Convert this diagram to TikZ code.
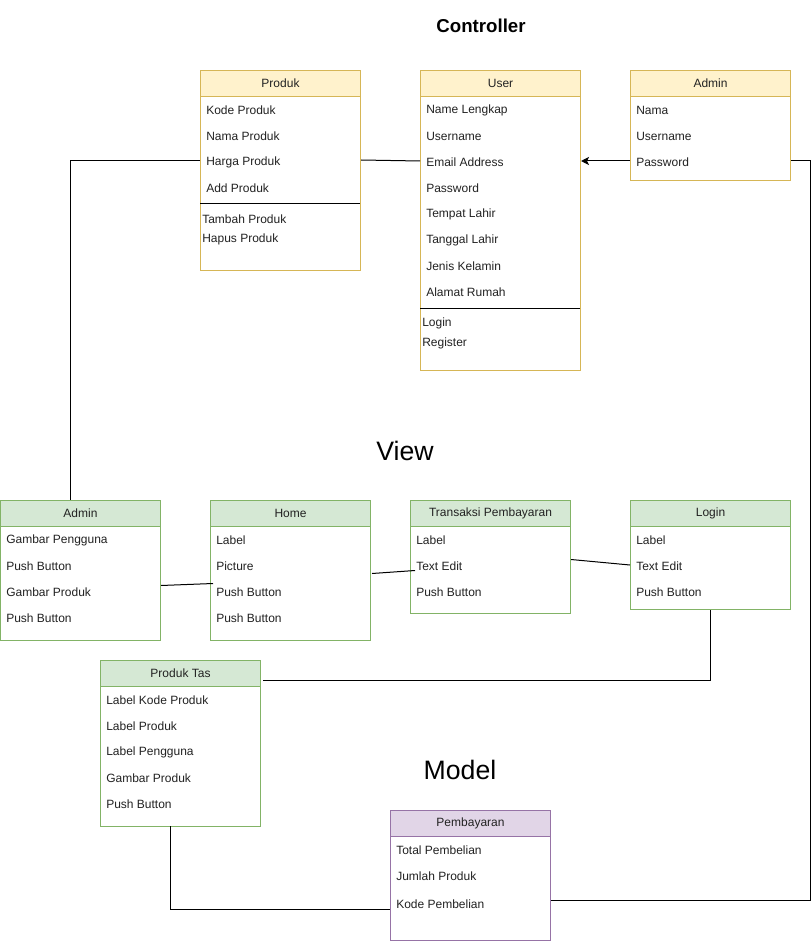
\documentclass[tikz,border=0pt]{standalone}
\usepackage{fontspec}
\setmainfont{Liberation Sans}
\usetikzlibrary{arrows.meta,calc}
\definecolor{yfill}{HTML}{FFF2CC}
\definecolor{ydraw}{HTML}{D6B656}
\definecolor{gfill}{HTML}{D5E8D4}
\definecolor{gdraw}{HTML}{82B366}
\definecolor{pfill}{HTML}{E1D5E7}
\definecolor{pdraw}{HTML}{9673A6}
\definecolor{txt}{HTML}{222222}
\tikzset{
  hdr/.style={draw, line width=0.75pt, minimum width=120pt, minimum height=19.5pt, anchor=north west, inner sep=0pt, font=\fontsize{9pt}{11pt}\selectfont, text=txt},
  hdrY/.style={hdr, fill=yfill, draw=ydraw},
  hdrG/.style={hdr, fill=gfill, draw=gdraw},
  hdrP/.style={hdr, fill=pfill, draw=pdraw},
  body/.style={draw, line width=0.75pt, minimum width=120pt, anchor=north west, inner sep=0pt, fill=white},
  bodyY/.style={body, draw=ydraw},
  bodyG/.style={body, draw=gdraw},
  bodyP/.style={body, draw=pdraw},
  item/.style={anchor=west, inner sep=0pt, font=\fontsize{9pt}{11pt}\selectfont, text=txt},
  conn/.style={draw=black, line width=0.75pt},
  ttl/.style={font=\fontsize{20pt}{24pt}\selectfont, text=black}
}
\begin{document}
\begin{tikzpicture}[x=0.75pt, y=-0.75pt]
\useasboundingbox (0,0) rectangle (812,941);
\fill[white] (0,0) rectangle (812,941);

% titles
\node[font=\bfseries\fontsize{14pt}{16pt}\selectfont] (tctrl) at (481,26) {Controller};
\node[ttl] (tview) at (405,451) {View};
\node[ttl] (tmodel) at (460,770) {Model};

% ===== Produk (controller)
\node[bodyY, minimum height={174*0.75pt}] (produk) at (200,96) {};
\node[hdrY] (produkH) at (200,70) {Produk};
\node[item] (produk1) at (206,110) {Kode Produk};
\node[item] (produk2) at (206,136) {Nama Produk};
\node[item] (produk3) at (206,162) {Harga Produk};
\node[item] (produk4) at (206,188) {Add Produk};
\draw[line width=0.75pt] (200,204) -- (360,204);
\node[item] (produk5) at (202,219) {Tambah Produk};
\node[item] (produk6) at (202,239) {Hapus Produk};

% ===== User
\node[bodyY, minimum height={274*0.75pt}] (user) at (420,96) {};
\node[hdrY] (userH) at (420,70) {User};
\node[item] (user1) at (426,110) {Name Lengkap};
\node[item] (user2) at (426,136) {Username};
\node[item] (user3) at (426,162) {Email Address};
\node[item] (user4) at (426,188) {Password};
\node[item] (user5) at (426,214) {Tempat Lahir};
\node[item] (user6) at (426,240) {Tanggal Lahir};
\node[item] (user7) at (426,266) {Jenis Kelamin};
\node[item] (user8) at (426,292) {Alamat Rumah};
\draw[line width=0.75pt] (420,308) -- (580,308);
\node[item] (user9) at (422,323) {Login};
\node[item] (user10) at (422,343) {Register};

% ===== Admin (controller)
\node[bodyY, minimum height={84*0.75pt}] (cadm) at (630,96) {};
\node[hdrY] (cadmH) at (630,70) {Admin};
\node[item] (cadm1) at (636,110) {Nama};
\node[item] (cadm2) at (636,136) {Username};
\node[item] (cadm3) at (636,162) {Password};

% ===== View Admin
\node[bodyG, minimum height={114*0.75pt}] (vadm) at (0,526) {};
\node[hdrG] (vadmH) at (0,500) {Admin};
\node[item] (vadm1) at (6,540) {Gambar Pengguna};
\node[item] (vadm2) at (6,566) {Push Button};
\node[item] (vadm3) at (6,592) {Gambar Produk};
\node[item] (vadm4) at (6,618) {Push Button};

% ===== Home
\node[bodyG, minimum height={114*0.75pt}] (home) at (210,526) {};
\node[hdrG] (homeH) at (210,500) {Home};
\node[item] (home1) at (216,540) {Label};
\node[item] (home2) at (216,566) {Picture};
\node[item] (home3) at (216,592) {Push Button};
\node[item] (home4) at (216,618) {Push Button};

% ===== Transaksi Pembayaran
\node[bodyG, minimum height={87*0.75pt}] (trans) at (410,526) {};
\node[hdrG] (transH) at (410,500) {Transaksi Pembayaran};
\node[item] (trans1) at (416,540) {Label};
\node[item] (trans2) at (416,566) {Text Edit};
\node[item] (trans3) at (416,592) {Push Button};

% ===== Login
\node[bodyG, minimum height={83*0.75pt}] (login) at (630,526) {};
\node[hdrG] (loginH) at (630,500) {Login};
\node[item] (login1) at (636,540) {Label};
\node[item] (login2) at (636,566) {Text Edit};
\node[item] (login3) at (636,592) {Push Button};

% ===== Produk Tas
\node[bodyG, minimum height={140*0.75pt}] (ptas) at (100,686) {};
\node[hdrG] (ptasH) at (100,660) {Produk Tas};
\node[item] (ptas1) at (106,700) {Label Kode Produk};
\node[item] (ptas2) at (106,726) {Label Produk};
\node[item] (ptas3) at (106,752) {Label Pengguna};
\node[item] (ptas4) at (106,778) {Gambar Produk};
\node[item] (ptas5) at (106,804) {Push Button};

% ===== Pembayaran
\node[bodyP, minimum height={104*0.75pt}] (pemb) at (390,836) {};
\node[hdrP] (pembH) at (390,810) {Pembayaran};
\node[item] (pemb1) at (396,850) {Total Pembelian};
\node[item] (pemb2) at (396,876) {Jumlah Produk};
\node[item] (pemb3) at (396,904) {Kode Pembelian};

% ===== connectors
\coordinate (vadmTop) at (70,500);
\draw[conn] (produk.west |- 0,161) -| (vadmTop);
\draw[conn] (produk.east |- 0,160) -- (user.west |- 0,161);
\draw[conn, -{Stealth[length=6pt,width=6pt,inset=1.5pt]}] (cadm.west |- 0,161) -- (user.east |- 0,161);
\coordinate (rail) at (810,161);
\draw[conn] (cadm.east |- 0,161) -- (rail) |- ($(pemb.east)+(0,12)$);
\draw[conn] ($(vadm.east)+(0,2)$) -- ($(home.west)+(3,0)$);
\draw[conn] ($(home.east)+(1,-10)$) -- ($(trans.west)+(5,0.5)$);
\draw[conn] ($(trans.east)+(0,-10.5)$) -- (login.west |- 0,565);
\draw[conn] (login.south) |- ($(ptasH.east)+(2,7)$);
\coordinate (ptasB) at (170,826);
\draw[conn] (ptasB) |- ($(pemb.west)+(0,21)$);
\end{tikzpicture}
\end{document}
